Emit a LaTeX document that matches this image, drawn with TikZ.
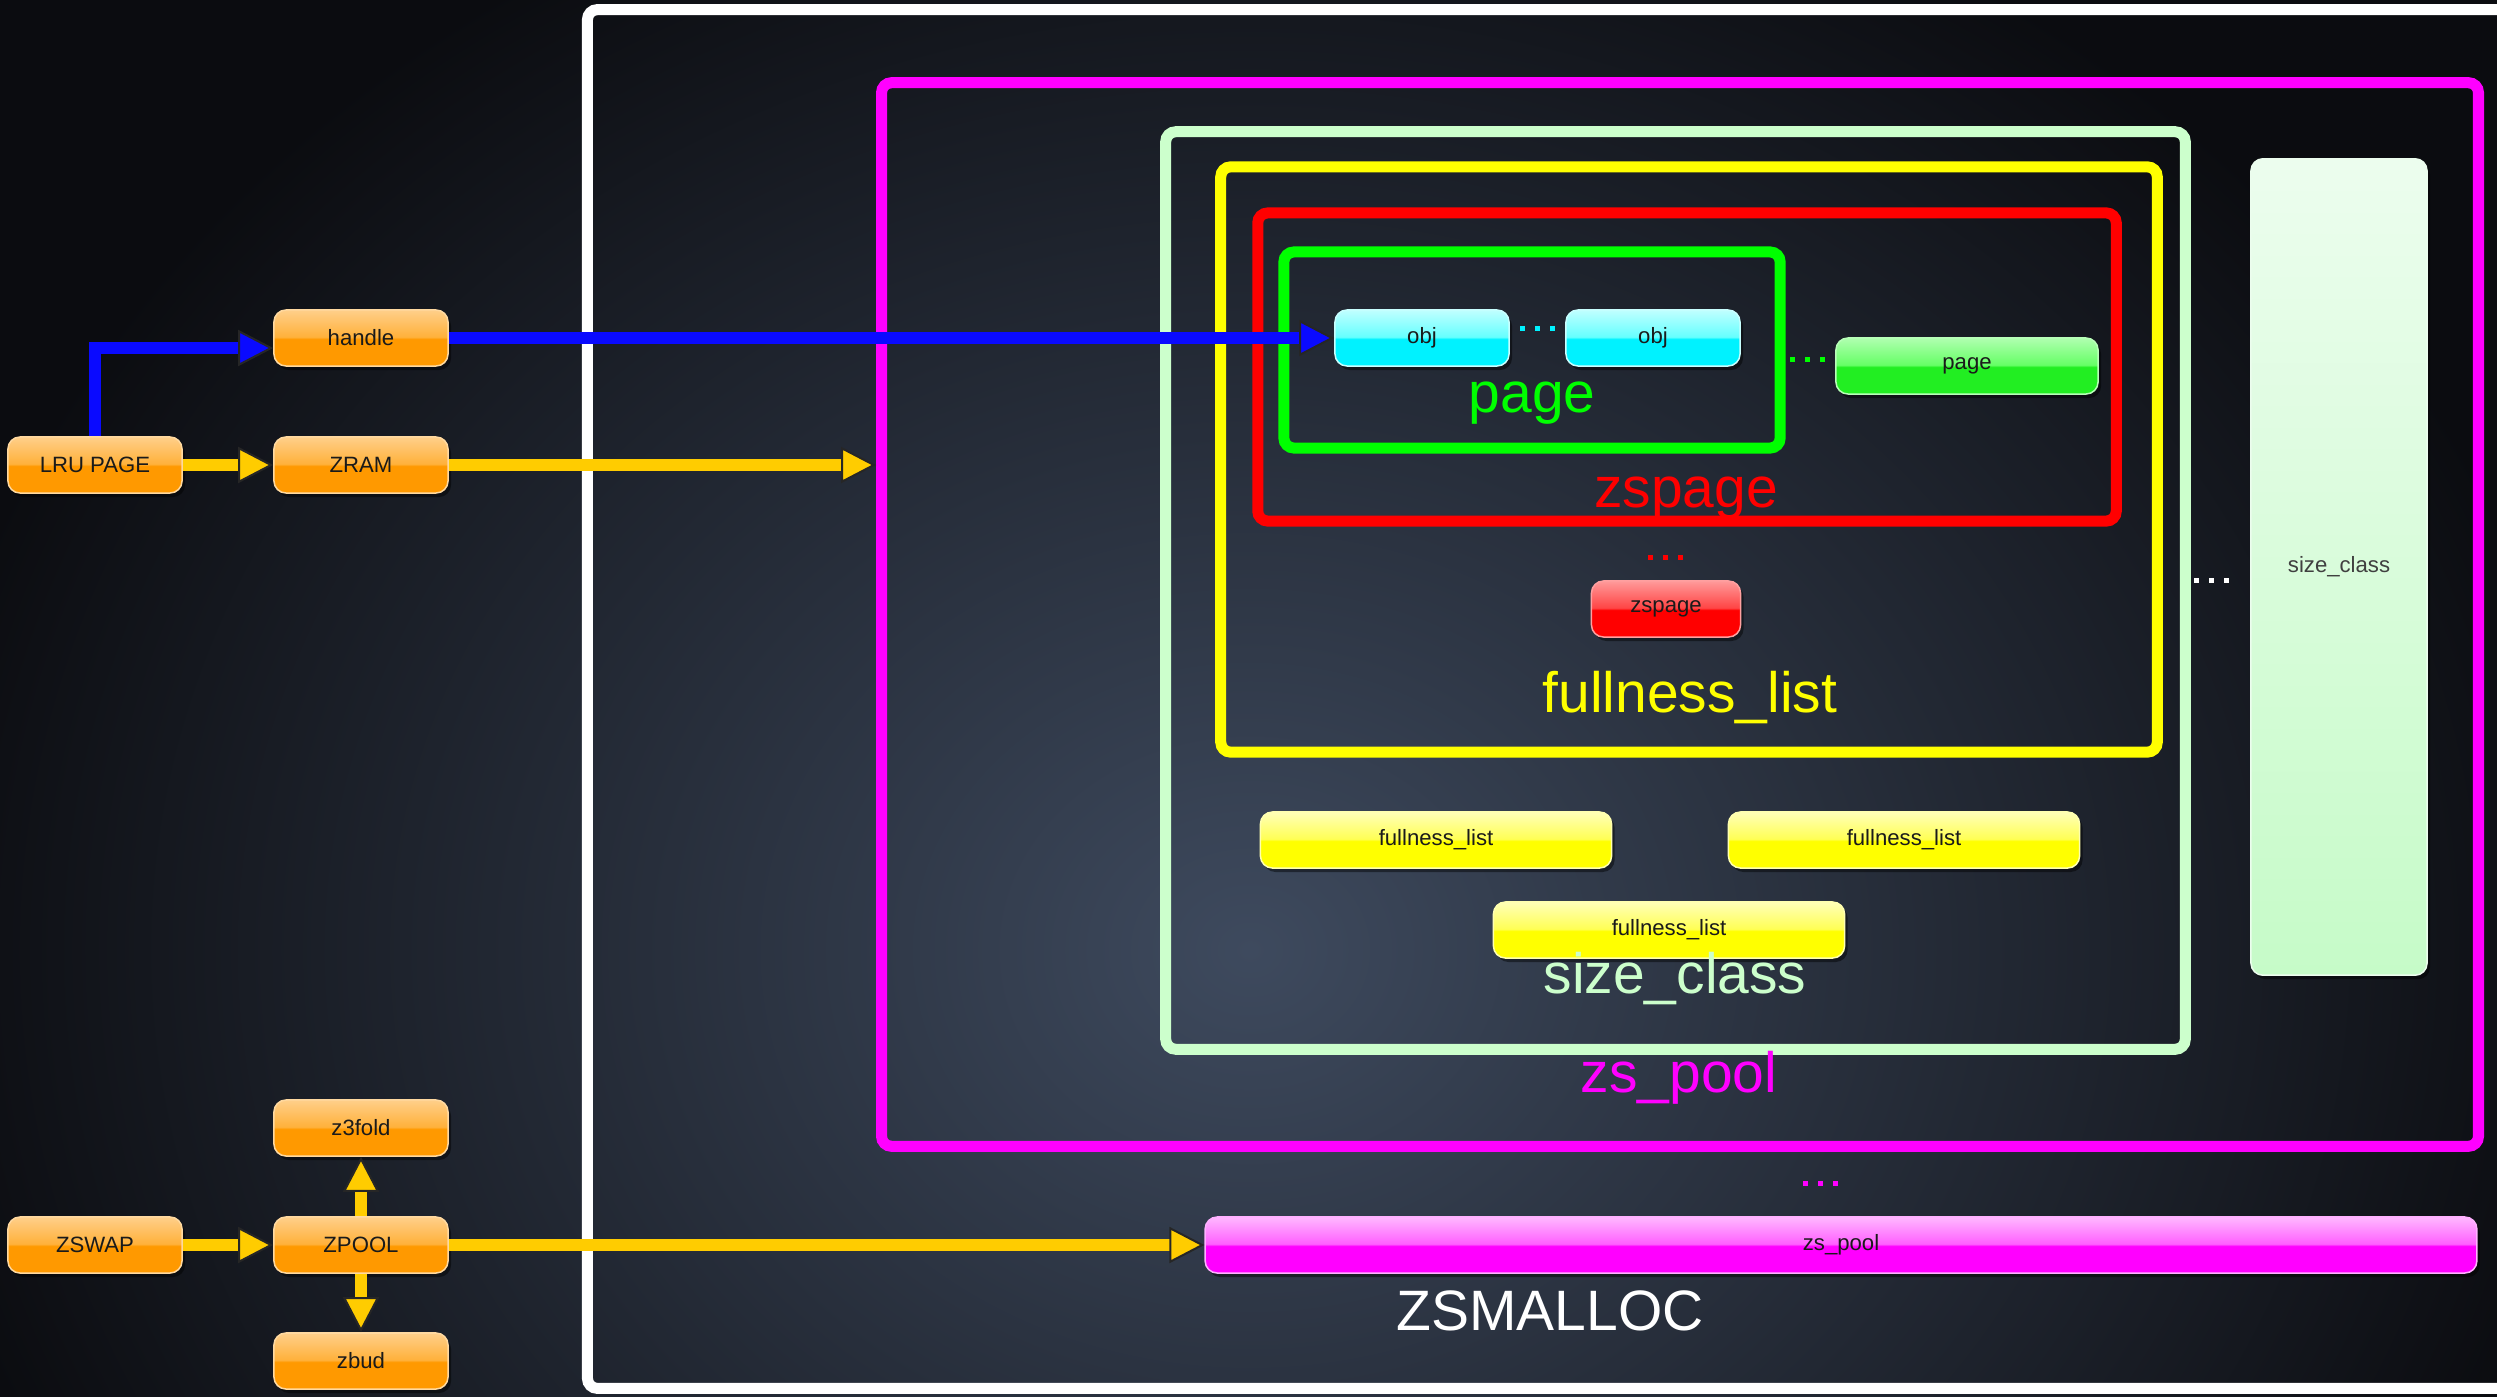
\documentclass[tikz,border=0pt]{standalone}
\usepackage{fontspec}
\setmainfont{Liberation Sans}
\usetikzlibrary{arrows.meta,shadows}

\definecolor{bgin}{HTML}{3E4A5E}
\definecolor{bgout}{HTML}{0B0C10}
\definecolor{txtdark}{HTML}{1A1A1A}
\definecolor{ayellow}{HTML}{FFCC00}
\definecolor{ablue}{HTML}{0A0AFF}
\definecolor{fmag}{HTML}{FF00FF}
\definecolor{fmint}{HTML}{CCFFCC}
\definecolor{fyel}{HTML}{FFFF00}
\definecolor{fred}{HTML}{FF0000}
\definecolor{fgrn}{HTML}{00FF00}

\definecolor{orB}{HTML}{FF9900}\definecolor{orM}{HTML}{FFB13B}\definecolor{orT}{HTML}{FFCF8A}\definecolor{orE}{HTML}{FFD9A0}
\definecolor{cyB}{HTML}{00F2FF}\definecolor{cyM}{HTML}{66FFFF}\definecolor{cyT}{HTML}{C0FFFF}\definecolor{cyE}{HTML}{C8FFFF}
\definecolor{grB}{HTML}{22EE22}\definecolor{grM}{HTML}{66FF66}\definecolor{grT}{HTML}{B0FFB0}\definecolor{grE}{HTML}{B8FFB8}
\definecolor{rdB}{HTML}{FF0000}\definecolor{rdM}{HTML}{FF4545}\definecolor{rdT}{HTML}{FF9A9A}\definecolor{rdE}{HTML}{FFA0A0}
\definecolor{ylB}{HTML}{FFFF00}\definecolor{ylM}{HTML}{FFFF55}\definecolor{ylT}{HTML}{FFFFB8}\definecolor{ylE}{HTML}{FFFFB0}
\definecolor{mgB}{HTML}{FF00FF}\definecolor{mgM}{HTML}{FF60FF}\definecolor{mgT}{HTML}{FFB8FF}\definecolor{mgE}{HTML}{FFB0FF}
\definecolor{mnT}{HTML}{ECFDEE}\definecolor{mnB}{HTML}{C6FBC8}

\newcommand\mkgloss[4]{\pgfdeclareverticalshading{#1}{100bp}{color(0bp)=(#2); color(25bp)=(#2); color(49bp)=(#2); color(51bp)=(#3); color(75bp)=(#4); color(100bp)=(#4)}}
\mkgloss{glossor}{orB}{orM}{orT}
\mkgloss{glosscy}{cyB}{cyM}{cyT}
\mkgloss{glossgr}{grB}{grM}{grT}
\mkgloss{glossrd}{rdB}{rdM}{rdT}
\mkgloss{glossyl}{ylB}{ylM}{ylT}
\mkgloss{glossmg}{mgB}{mgM}{mgT}

\newcommand\zboxfont{\fontsize{6.3pt}{7.5pt}\selectfont}
\newcommand\zbigfont{\fontsize{16.2pt}{19pt}\selectfont}

\tikzset{
  framebox/.style={draw=#1, line width=0.11cm, rounded corners=0.1cm, inner sep=0pt},
  gbox/.style={rounded corners=0.12cm, minimum height=0.56cm, inner sep=0pt,
    font=\zboxfont, text=txtdark, line width=0.015cm,
    drop shadow={shadow xshift=0.03cm, shadow yshift=-0.04cm, opacity=0.45, fill=black}},
  obox/.style={gbox, shading=glossor, draw=orE, minimum width=1.74cm},
  cbox/.style={gbox, shading=glosscy, draw=cyE, minimum width=1.74cm},
  grbox/.style={gbox, shading=glossgr, draw=grE, minimum width=2.62cm},
  rbox/.style={gbox, shading=glossrd, draw=rdE, minimum width=1.49cm},
  ybox/.style={gbox, shading=glossyl, draw=ylE, minimum width=3.51cm},
  mbox/.style={gbox, shading=glossmg, draw=mgE, minimum width=12.71cm},
  biglbl/.style={font=\zbigfont, anchor=base, inner sep=0pt},
  yarrow/.style={draw=ayellow, line width=0.12cm,
    -{Triangle[length=0.35cm, width=0.36cm, line width=0.02cm, color=black!85, fill=ayellow]}},
  barrow/.style={draw=ablue, line width=0.12cm,
    -{Triangle[length=0.35cm, width=0.36cm, line width=0.02cm, color=black!85, fill=ablue]}},
}

\newcommand\zdots[3]{\foreach \k in {0,1,2} {\fill[#1] ({#2+\k*15-2.5},{#3-2.5}) rectangle ++(5,5);}}

\begin{document}
\begin{tikzpicture}[x=0.01cm, y=-0.01cm]
\useasboundingbox (0,0) rectangle (2497,1397);
\clip (0,0) rectangle (2497,1397);
% background
\shade[inner color=bgin, outer color=bgout] (-100,-200) rectangle (2600,2100);

% frames
\node[framebox=white, minimum width=19.27cm, minimum height=13.78cm] (zsmallocfr) at (1551.5,699) {};
\node[framebox=fmag, minimum width=15.96cm, minimum height=10.63cm] (zspoolfr) at (1680,614.5) {};
\node[framebox=fmint, minimum width=10.19cm, minimum height=9.17cm] (sizeclassfr) at (1675.5,590.5) {};
\node[framebox=fyel, minimum width=9.36cm, minimum height=5.85cm] (fullnessfr) at (1689,459.5) {};
\node[framebox=fred, minimum width=8.58cm, minimum height=3.08cm] (zspagefr) at (1687,367) {};
\node[framebox=fgrn, minimum width=4.96cm, minimum height=1.96cm] (pagefr) at (1532,350) {};

% left nodes
\node[obox] (handle) at (361,338) {handle};
\node[obox] (lru) at (95,465) {LRU PAGE};
\node[obox] (zram) at (361,465) {ZRAM};
\node[obox] (z3fold) at (361,1128) {z3fold};
\node[obox] (zswap) at (95,1245) {ZSWAP};
\node[obox] (zpool) at (361,1245) {ZPOOL};
\node[obox] (zbud) at (361,1361) {zbud};

% inner nodes
\node[cbox] (obja) at (1422,338) {obj};
\node[cbox] (objb) at (1653,338) {obj};
\node[grbox] (pagebox) at (1967,366) {page};
\node[rbox] (zspagebox) at (1666,609) {zspage};
\node[ybox] (fla) at (1436,840) {fullness\_list};
\node[ybox] (flb) at (1904,840) {fullness\_list};
\node[ybox] (flc) at (1669,930) {fullness\_list};
\node[gbox, top color=mnT, bottom color=mnB, draw=mnT, minimum width=1.76cm, minimum height=8.16cm, text=black!75] (sctall) at (2339,567) {size\_class};
\node[mbox] (zspoolbar) at (1841,1245) {zs\_pool};

% connectors
\draw[barrow] (lru.north) |- ([yshift=-0.1cm]handle.west);
\draw[barrow] (handle.east) -- (obja.west);
\draw[yarrow] (lru.east) -- (zram.west);
\draw[yarrow] (zram.east) -- (zram.east -| zspoolfr.west);
\draw[yarrow] (zswap.east) -- (zpool.west);
\draw[yarrow] (zpool.north) -- (z3fold.south);
\draw[yarrow] (zpool.south) -- (zbud.north);
\draw[yarrow] (zpool.east) -- (zspoolbar.west);

% big labels
\node[biglbl, text=fgrn] (pagelbl) at (1532,412) {page};
\node[biglbl, text=fred] (zspagelbl) at (1686,507) {zspage};
\node[biglbl, text=fyel] (fulllbl) at (1690,712) {fullness\_list};
\node[biglbl, text=fmint] (sclbl) at (1675,993) {size\_class};
\node[biglbl, text=fmag] (zspoollbl) at (1679,1092) {zs\_pool};
\node[biglbl, text=white] (zsmalloclbl) at (1550,1330) {ZSMALLOC};

% ellipsis dots
\zdots{cyB}{1522}{328}
\zdots{fgrn}{1792}{359}
\zdots{fred}{1650}{557}
\zdots{white}{2196}{580}
\zdots{fmag}{1805}{1183}
\end{tikzpicture}
\end{document}
